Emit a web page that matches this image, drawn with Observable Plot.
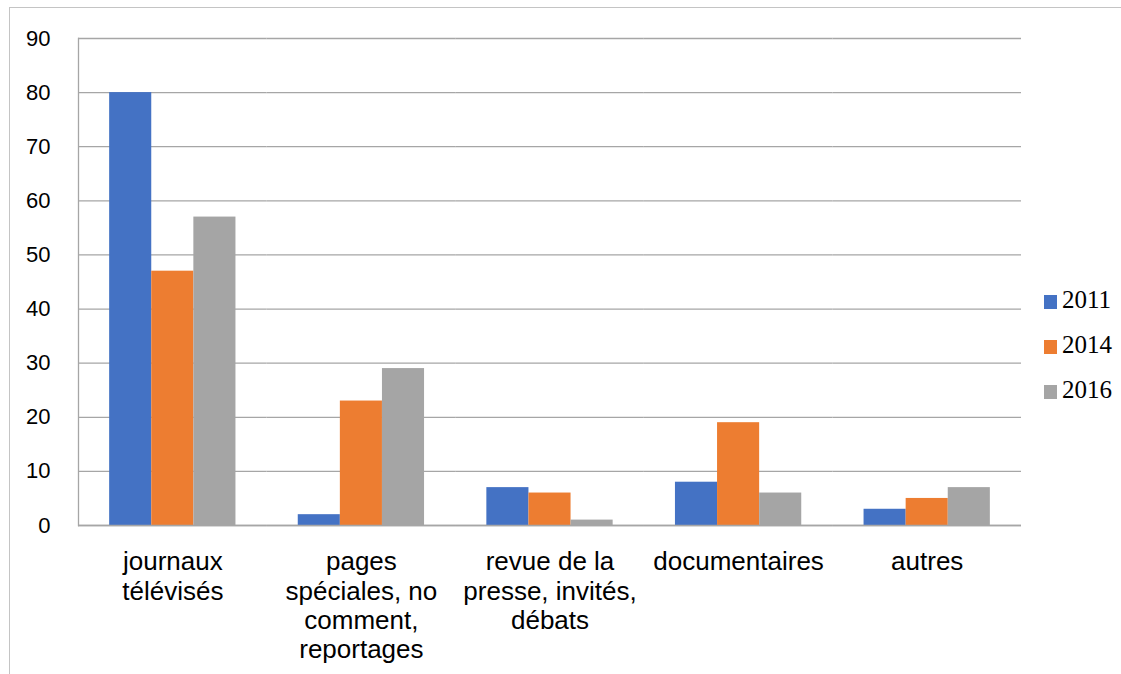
<!DOCTYPE html>
<html>
<head>
<meta charset="utf-8">
<script src="https://cdn.jsdelivr.net/npm/d3@7"></script>
<script src="https://cdn.jsdelivr.net/npm/@observablehq/plot@0.6"></script>
<style>
  html, body { margin: 0; padding: 0; background: #fff; }
  #wrap { position: relative; width: 1121px; height: 674px; overflow: hidden; }
  #border { position: absolute; left: 9px; top: 7px; width: 1200px; height: 700px;
            border-left: 1.5px solid #c4c4c4; border-top: 1.5px solid #c4c4c4; }
  #chart { position: absolute; left: 0; top: 0; }
  #legend { position: absolute; left: 1044px; top: 277px; font-family: "Liberation Serif", serif; font-size: 25px; color: #000; }
  .li { display: flex; align-items: center; height: 45px; }
  .sw { width: 13px; height: 14px; margin-right: 5px; margin-top: 5px; }
</style>
</head>
<body>
<div id="wrap">
  <div id="border"></div>
  <div id="chart"></div>
  <div id="legend"></div>
</div>
<script>
const categories = ["journaux télévisés", "pages spéciales, no comment, reportages", "revue de la presse, invités, débats", "documentaires", "autres"];
const categoryLabels = ["journaux\ntélévisés", "pages\nspéciales, no\ncomment,\nreportages", "revue de la\npresse, invités,\ndébats", "documentaires", "autres"];
const years = ["2011", "2014", "2016"];
const values2011 = [80, 2, 7, 8, 3];
const values2014 = [47, 23, 6, 19, 5];
const values2016 = [57, 29, 1, 6, 7];
const colors = ["#4472C4", "#ED7D31", "#A5A5A5"];
const yTicks = [0, 10, 20, 30, 40, 50, 60, 70, 80, 90];

const series = [values2011, values2014, values2016];
const data = [];
categories.forEach((c, i) => years.forEach((y, j) => data.push({cat: c, year: y, value: series[j][i]})));

const grid = "#a6a6a6";
const plot = Plot.plot({
  width: 1121,
  height: 674,
  marginLeft: 78,
  marginRight: 100,
  marginTop: 38,
  marginBottom: 149,
  style: {fontFamily: "'Liberation Sans', Arial, sans-serif", color: "#000", background: "transparent"},
  fx: {domain: categories, paddingInner: 0, paddingOuter: 0, round: false, label: null, axis: null},
  x: {domain: years, paddingInner: 0, paddingOuter: 0.74, round: false, axis: null},
  y: {domain: [0, 90], label: null},
  color: {domain: years, range: colors},
  marks: [
    Plot.gridY(yTicks, {stroke: grid, strokeOpacity: 1, strokeWidth: 1.3}),
    Plot.barY(data, {fx: "cat", x: "year", y: "value", fill: "year"}),
    Plot.ruleY([0], {stroke: grid, strokeWidth: 1.3}),
    Plot.frame({anchor: "left", facetAnchor: "left", stroke: grid, strokeWidth: 1.3}),
    Plot.axisY(yTicks, {tickSize: 0, tickPadding: 28, fontSize: 22, label: null}),
    Plot.axisFx({anchor: "bottom", tickSize: 0, tickPadding: 24, fontSize: 26, lineHeight: 1.13, label: null,
      tickFormat: d => categoryLabels[categories.indexOf(d)]})
  ]
});
document.getElementById("chart").appendChild(plot);

const legend = document.getElementById("legend");
years.forEach((y, j) => {
  const row = document.createElement("div");
  row.className = "li";
  const sw = document.createElement("span");
  sw.className = "sw";
  sw.style.background = colors[j];
  const t = document.createElement("span");
  t.textContent = y;
  row.appendChild(sw); row.appendChild(t);
  legend.appendChild(row);
});
</script>
</body>
</html>
